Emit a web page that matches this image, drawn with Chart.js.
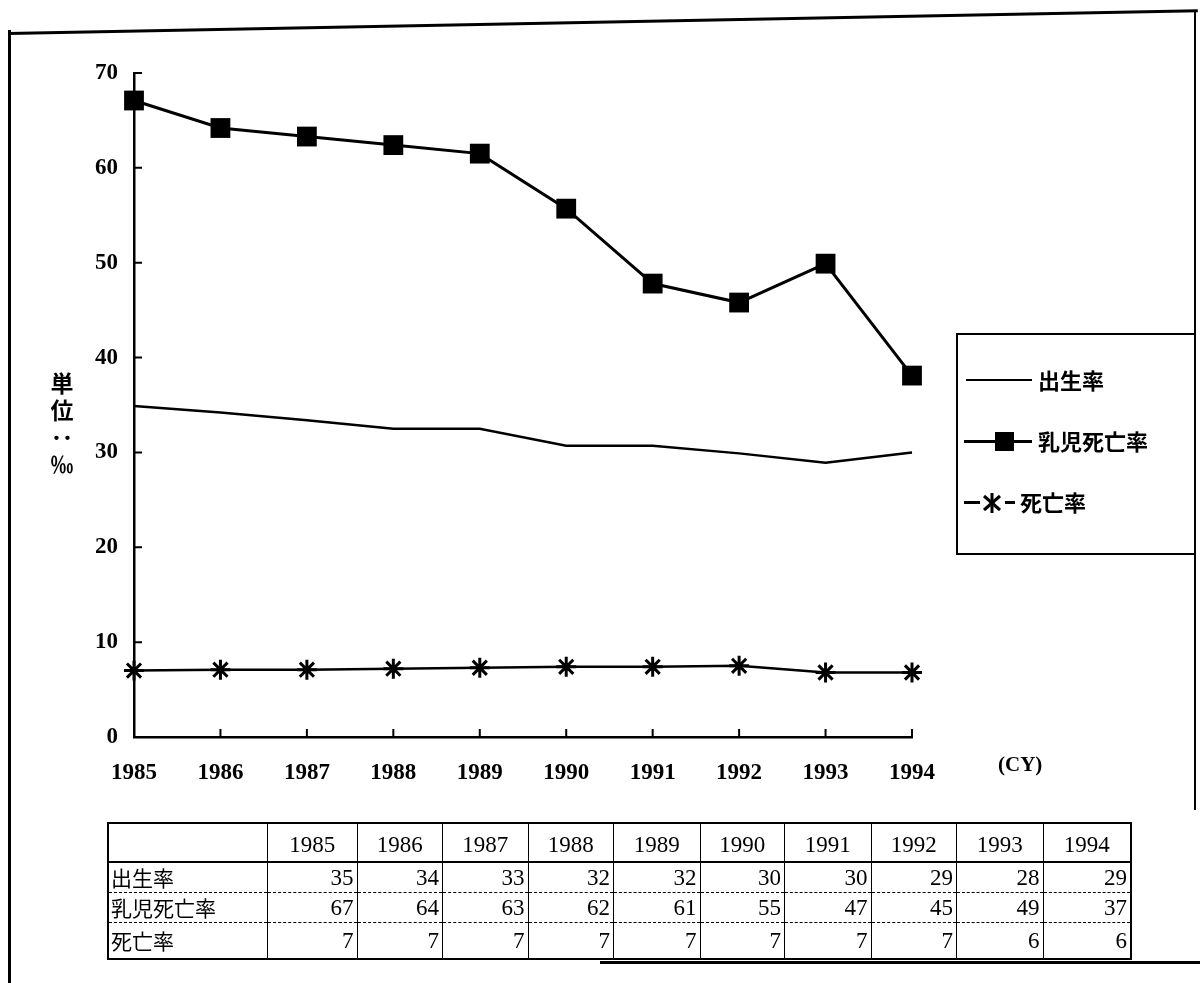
<!DOCTYPE html>
<html>
<head>
<meta charset="utf-8">
<script src="https://cdn.jsdelivr.net/npm/chart.js"></script>
<style>
  body { margin: 0; background: #fff; }
  #wrap { position: relative; width: 1200px; height: 983px; overflow: hidden; background: #fff; }
  #myChart { position: absolute; left: 0; top: 0; }
  .ln { position: absolute; background: #000; }
  .txt { position: absolute; color: #000; white-space: nowrap; }
  .jp { font-family: "Noto Sans CJK JP", sans-serif; font-weight: bold; }
  .serif { font-family: "Liberation Serif", "DejaVu Serif", serif; font-weight: bold; }
  #ytitle { left: 50px; top: 372px; font-size: 23px; writing-mode: vertical-rl; letter-spacing: 4px; line-height: 1; }
  #legend { position: absolute; left: 956px; top: 333px; width: 240px; height: 222px; border: 2px solid #000; box-sizing: border-box; }
  #dataTable { position: absolute; left: 107px; top: 822px; border-collapse: collapse; border: 2px solid #000; }
  #dataTable td { border-left: 1.5px solid #000; border-right: 1.5px solid #000; padding: 0 3px; font-family: "Liberation Serif", serif; font-size: 23px; text-align: right; line-height: 1; }
  #dataTable tr.head td { text-align: center; border-bottom: 2px solid #000; height: 33px; padding-top: 4px; }
  #dataTable tr.row td { border-bottom: 1px dashed #000; height: 29px; }
  #dataTable td.name { text-align: left; font-family: "Noto Sans CJK JP", sans-serif; font-size: 21px; padding-left: 2px; }
</style>
</head>
<body>
<div id="wrap">
  <canvas id="myChart" width="1200" height="983"></canvas>

  <!-- 枠線 -->
  <div class="ln" style="left:8px; top:30px; width:3px; height:953px;"></div>
  <div class="ln" style="left:8px; top:32px; width:1190px; height:3px; transform: rotate(-1.1deg); transform-origin: left top;"></div>
  <div class="ln" style="left:1194px; top:10px; width:2px; height:800px;"></div>
  <div class="ln" style="left:600px; top:961px; width:600px; height:3px;"></div>

  <div id="ytitle" class="txt jp">単位：‰</div>
  <div class="txt serif" style="left:998px; top:752px; font-size:21px;">(CY)</div>

  <div id="legend"></div>
  <table id="dataTable"></table>
</div>

<script>
// 데이터
const years = ['1985', '1986', '1987', '1988', '1989', '1990', '1991', '1992', '1993', '1994'];
const birthRate = [34.9, 34.2, 33.4, 32.5, 32.5, 30.7, 30.7, 29.9, 28.9, 30.0];
const infantRate = [67.1, 64.2, 63.3, 62.4, 61.5, 55.7, 47.8, 45.8, 49.9, 38.1];
const deathRate = [7.0, 7.1, 7.1, 7.2, 7.3, 7.4, 7.4, 7.5, 6.8, 6.8];
const yMin = 0, yMax = 70, yStep = 10;

// 표
const seriesNames = ['出生率', '乳児死亡率', '死亡率'];
const tableBirth = [35, 34, 33, 32, 32, 30, 30, 29, 28, 29];
const tableInfant = [67, 64, 63, 62, 61, 55, 47, 45, 49, 37];
const tableDeath = [7, 7, 7, 7, 7, 7, 7, 7, 6, 6];

const colWidths = [158, 90, 86, 86, 86, 87, 85, 87, 86, 87, 88];

// 표 만들기
const table = document.getElementById('dataTable');
let html = '<tr class="head">';
html += '<td class="name" style="width:' + (colWidths[0] - 5) + 'px"></td>';
years.forEach((y, i) => { html += '<td style="width:' + (colWidths[i + 1] - 7.5) + 'px">' + y + '</td>'; });
html += '</tr>';
[tableBirth, tableInfant, tableDeath].forEach((row, r) => {
  html += '<tr class="row"' + (r === 2 ? ' style="height:36px"' : '') + '><td class="name">' + seriesNames[r] + '</td>';
  row.forEach(v => { html += '<td>' + v + '</td>'; });
  html += '</tr>';
});
table.innerHTML = html;

// 범례
const legend = document.getElementById('legend');
legend.innerHTML =
  '<div class="ln" style="left:8px; top:44px; width:66px; height:2px;"></div>' +
  '<div class="txt jp" style="left:80px; top:28px; font-size:22px;">' + seriesNames[0] + '</div>' +
  '<div class="ln" style="left:6px; top:105px; width:68px; height:3px;"></div>' +
  '<div class="ln" style="left:37px; top:97px; width:19px; height:19px;"></div>' +
  '<div class="txt jp" style="left:80px; top:89px; font-size:22px;">' + seriesNames[1] + '</div>' +
  '<div class="ln" style="left:6px; top:166px; width:16px; height:3px;"></div>' +
  '<svg style="position:absolute; left:23px; top:157px;" width="22" height="22">' +
    '<line x1="11" y1="1" x2="11" y2="21" stroke="#000" stroke-width="3"/>' +
    '<line x1="3" y1="4" x2="19" y2="18" stroke="#000" stroke-width="3"/>' +
    '<line x1="19" y1="4" x2="3" y2="18" stroke="#000" stroke-width="3"/></svg>' +
  '<div class="ln" style="left:47px; top:166px; width:10px; height:3px;"></div>' +
  '<div class="txt jp" style="left:62px; top:150px; font-size:22px;">' + seriesNames[2] + '</div>';

// 안쪽 눈금
const innerTicks = {
  id: 'innerTicks',
  beforeDatasetsDraw(chart) {
    const { ctx, scales: { x, y } } = chart;
    ctx.save();
    ctx.strokeStyle = '#000';
    ctx.lineWidth = 2;
    ctx.beginPath();
    y.ticks.forEach((t, i) => {
      const py = y.getPixelForTick(i);
      ctx.moveTo(y.right, py);
      ctx.lineTo(y.right + 8, py);
    });
    x.ticks.forEach((t, i) => {
      const px = x.getPixelForTick(i);
      ctx.moveTo(px, x.top);
      ctx.lineTo(px, x.top - 8);
    });
    ctx.stroke();
    ctx.restore();
  }
};

const tickFont = { family: '"Liberation Serif", serif', size: 23, weight: 'bold' };

const ctx = document.getElementById('myChart').getContext('2d');
new Chart(ctx, {
  type: 'line',
  data: {
    labels: years,
    datasets: [
      {
        label: seriesNames[0],
        data: birthRate,
        borderColor: '#000',
        borderWidth: 2.5,
        pointRadius: 0,
        tension: 0,
        clip: false
      },
      {
        label: seriesNames[1],
        data: infantRate,
        borderColor: '#000',
        backgroundColor: '#000',
        borderWidth: 3,
        pointStyle: 'rect',
        pointRadius: 14,
        pointBorderWidth: 0,
        pointBackgroundColor: '#000',
        tension: 0,
        clip: false
      },
      {
        label: seriesNames[2],
        data: deathRate,
        borderColor: '#000',
        borderWidth: 2.5,
        pointStyle: 'star',
        pointRadius: 10,
        pointBorderWidth: 3,
        pointBorderColor: '#000',
        tension: 0,
        clip: false
      }
    ]
  },
  options: {
    responsive: false,
    animation: false,
    events: [],
    layout: { padding: { top: 73, right: 288, bottom: 0, left: 0 } },
    plugins: { legend: { display: false }, tooltip: { enabled: false } },
    scales: {
      x: {
        offset: false,
        grid: { display: false, drawTicks: false },
        border: { display: true, color: '#000', width: 2.5 },
        ticks: { color: '#000', font: tickFont, padding: 22, maxRotation: 0, autoSkip: false },
        afterFit(scale) { scale.height = 983 - 737; }
      },
      y: {
        min: yMin,
        max: yMax,
        grid: { display: false, drawTicks: false },
        border: { display: true, color: '#000', width: 2.5 },
        ticks: { color: '#000', font: tickFont, padding: 16, stepSize: yStep },
        afterFit(scale) { scale.width = 134; }
      }
    }
  },
  plugins: [innerTicks]
});
</script>
</body>
</html>
